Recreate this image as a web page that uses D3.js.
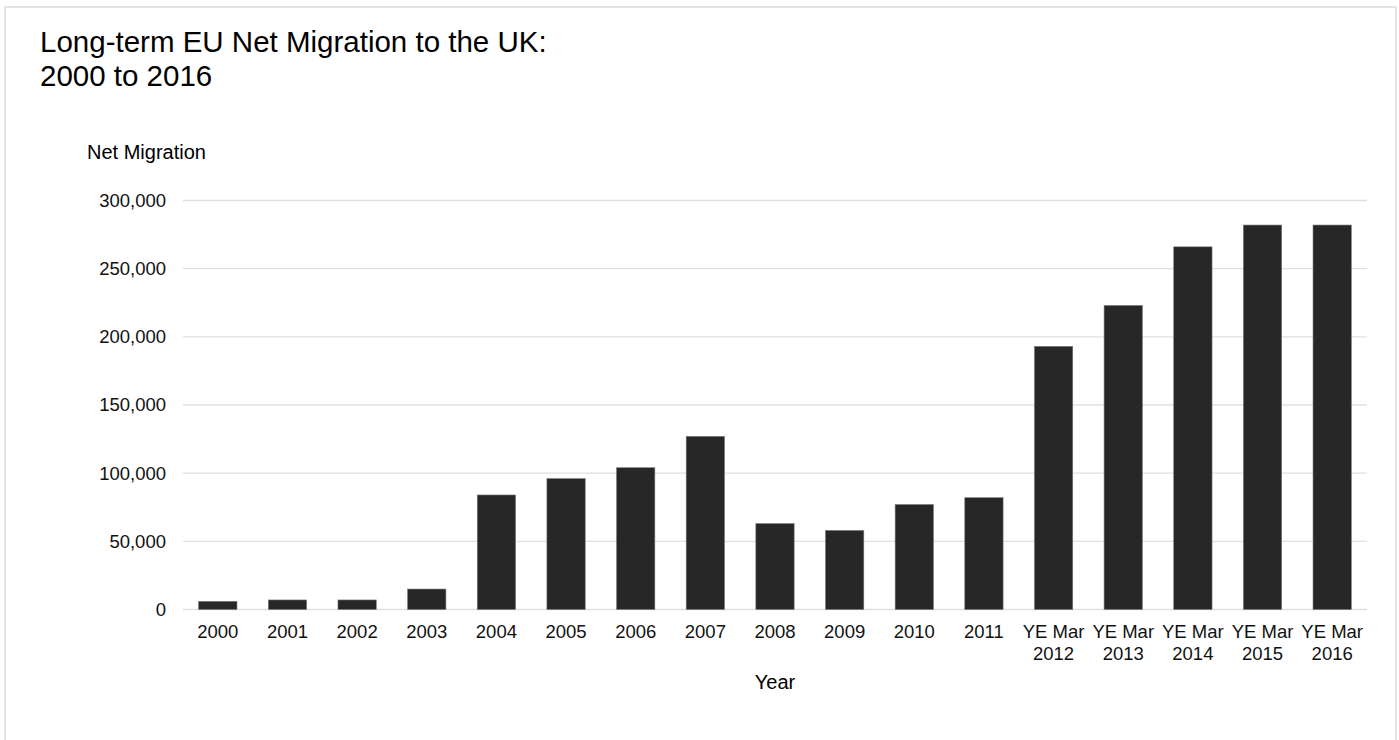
<!DOCTYPE html>
<html>
<head>
<meta charset="utf-8">
<script src="https://cdn.jsdelivr.net/npm/d3@7"></script>
<style>
  html, body { margin: 0; padding: 0; background: #fff; }
  svg { display: block; font-family: "Liberation Sans", Arial, sans-serif; }
</style>
</head>
<body>
<svg id="chart" width="1399" height="740"></svg>
<script>
// Category labels (multi-line labels split on "\n")
const categories = [
  "2000", "2001", "2002", "2003", "2004", "2005", "2006", "2007", "2008",
  "2009", "2010", "2011", "YE Mar\n2012", "YE Mar\n2013", "YE Mar\n2014",
  "YE Mar\n2015", "YE Mar\n2016"
];
// Long-term EU net migration to the UK
const netMigration = [
  6000, 7000, 7000, 15000, 84000, 96000, 104000, 127000, 63000,
  58000, 77000, 82000, 193000, 223000, 266000, 282000, 282000
];
const yTicks = [0, 50000, 100000, 150000, 200000, 250000, 300000];
const titleLines = ["Long-term EU Net Migration to the UK:", "2000 to 2016"];
const yAxisTitle = "Net Migration";
const xAxisTitle = "Year";

const svg = d3.select("#chart");
const W = 1399, H = 740;
const plot = { left: 183, right: 1367, top: 200.5, bottom: 609.5 };

// outer frame
svg.append("rect")
  .attr("x", 5).attr("y", 7).attr("width", W - 8).attr("height", H)
  .attr("fill", "#fff").attr("stroke", "#dcdcdc").attr("stroke-width", 1.5);

// title
const title = svg.append("text")
  .attr("x", 40).attr("y", 52)
  .attr("font-size", 29.5).attr("fill", "#000");
title.selectAll("tspan").data(titleLines).join("tspan")
  .attr("x", 40).attr("dy", (d, i) => i === 0 ? 0 : 34)
  .text(d => d);

const x = d3.scaleBand()
  .domain(d3.range(categories.length))
  .range([plot.left, plot.right])
  .paddingInner(0.45).paddingOuter(0.225);

const y = d3.scaleLinear()
  .domain([0, 300000])
  .range([plot.bottom, plot.top]);

// horizontal gridlines
svg.append("g").selectAll("line").data(yTicks).join("line")
  .attr("x1", plot.left).attr("x2", plot.right)
  .attr("y1", d => y(d)).attr("y2", d => y(d))
  .attr("stroke", "#e0e0e0").attr("stroke-width", 1.3);

// y axis labels
const yAxis = d3.axisLeft(y).tickValues(yTicks)
  .tickFormat(d3.format(",")).tickSize(0).tickPadding(0);
const gy = svg.append("g").attr("transform", `translate(${plot.left - 17},0)`).call(yAxis);
gy.select(".domain").remove();
gy.selectAll("text")
  .attr("font-size", 18.5).attr("fill", "#111")
  .attr("font-family", "'Liberation Sans', Arial, sans-serif");

// bars
svg.append("g").selectAll("rect").data(netMigration).join("rect")
  .attr("x", (d, i) => x(i))
  .attr("width", x.bandwidth())
  .attr("y", d => y(d))
  .attr("height", d => y(0) - y(d))
  .attr("fill", "#272727")
  .attr("stroke", "#777").attr("stroke-width", 0.6);

// x axis labels
const xl = svg.append("g").selectAll("text").data(categories).join("text")
  .attr("x", (d, i) => x(i) + x.bandwidth() / 2)
  .attr("y", 638)
  .attr("text-anchor", "middle")
  .attr("font-size", 18.5).attr("fill", "#111");
xl.each(function(d) {
  const lines = d.split("\n");
  d3.select(this).selectAll("tspan").data(lines).join("tspan")
    .attr("x", d3.select(this).attr("x"))
    .attr("dy", (l, i) => i === 0 ? 0 : 22)
    .text(l => l);
});

// axis titles
svg.append("text").attr("x", 87).attr("y", 159)
  .attr("font-size", 20).attr("fill", "#000").text(yAxisTitle);
svg.append("text").attr("x", (plot.left + plot.right) / 2).attr("y", 689)
  .attr("text-anchor", "middle")
  .attr("font-size", 20).attr("fill", "#000").text(xAxisTitle);
</script>
</body>
</html>
